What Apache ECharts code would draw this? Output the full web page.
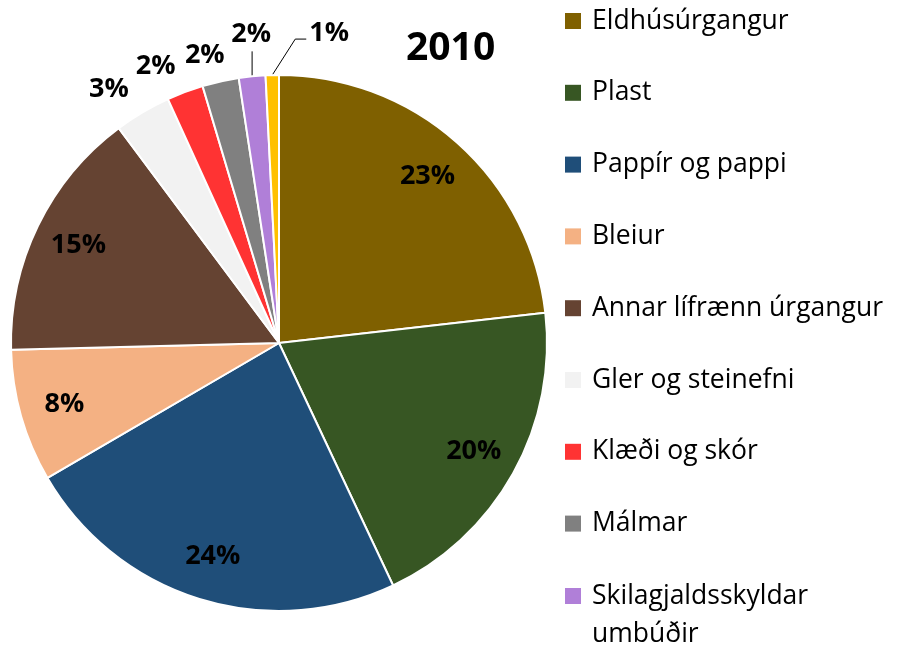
<!DOCTYPE html>
<html>
<head>
<meta charset="UTF-8">
<title>2010</title>
<style>
    html, body { margin: 0; padding: 0; background: #fff; }
    #container { width: 899px; height: 646px; }
</style>
</head>
<body>
<div id="container"></div>
<script src="https://cdn.jsdelivr.net/npm/echarts@6/dist/echarts.min.js"></script>
<script>
    // flokkar og hlutfall (%) árið 2010
    var categories = ['Eldhúsúrgangur', 'Plast', 'Pappír og pappi', 'Bleiur', 'Annar lífrænn úrgangur',
        'Gler og steinefni', 'Klæði og skór', 'Málmar', 'Skilagjaldsskyldar umbúðir', 'Annað'];
    var shares = [23.2, 19.8, 23.6, 8.0, 15.2, 3.4, 2.2, 2.2, 1.6, 0.8];
    var colors = ['#7f6000', '#375623', '#1f4e79', '#f4b183', '#654332',
        '#f2f2f2', '#ff3333', '#808080', '#b07fd8', '#ffc000'];
    var legendNames = categories.slice(0, 9); // síðasti flokkurinn kemst ekki fyrir í skýringunni
    var insideCount = 5;

    var font = '"Open Sans", "Noto Sans", sans-serif';
    var labelFont = {fontSize: 27, fontWeight: 'bold', color: '#000', fontFamily: font};
    var legendText = {fontSize: 26.5, lineHeight: 32, color: '#000', fontFamily: font, padding: [0, 0, 0, 6]};

    function pct(p) {
        return Math.round(p.percent) + '%';
    }

    var mainData = [];
    var labelData = [];
    for (var i = 0; i < categories.length; i++) {
        var outside = i >= insideCount;
        mainData.push({
            name: categories[i],
            value: shares[i],
            itemStyle: {color: colors[i]},
            label: {show: outside},
            labelLine: {show: i >= 8, length: 27, length2: 0}
        });
        labelData.push({
            name: categories[i],
            value: shares[i],
            label: {show: !outside}
        });
    }

    var lastName = legendNames[legendNames.length - 1];
    var nudge = {5: 5, 6: 5, 7: 15}; // smá hliðrun ytri merkja

    var chart = echarts.init(document.getElementById('container'));
    chart.setOption({
        animation: false,
        title: {
            text: '2010',
            left: 406,
            top: 29,
            padding: 0,
            textStyle: {fontSize: 39, fontWeight: 'bold', color: '#000', fontFamily: font}
        },
        legend: [{
            data: legendNames.slice(0, 8),
            orient: 'vertical',
            left: 565,
            top: 5,
            height: 640,
            padding: 0,
            itemWidth: 16,
            itemHeight: 16,
            itemGap: 39.8,
            icon: 'rect',
            itemStyle: {borderWidth: 0},
            textStyle: legendText
        }, {
            // tveggja lína skýring: ferningurinn við efri línuna
            data: [{name: lastName, icon: 'path://M0,0H16V16H0Z M0,54H16'}],
            orient: 'vertical',
            left: 565,
            top: 577,
            padding: 0,
            itemWidth: 16,
            itemHeight: 54,
            itemStyle: {borderWidth: 0},
            formatter: function (name) {
                return name.replace(' ', '\n');
            },
            textStyle: Object.assign({}, legendText, {lineHeight: 38})
        }],
        series: [{
            type: 'pie',
            center: [279, 343],
            radius: 268,
            startAngle: 90,
            clockwise: true,
            avoidLabelOverlap: false,
            emphasis: {disabled: true},
            itemStyle: {borderColor: '#fff', borderWidth: 2},
            label: Object.assign({position: 'outside', formatter: pct}, labelFont),
            labelLine: {lineStyle: {color: '#000', width: 1}},
            labelLayout: function (p) {
                var pts = p.labelLinePoints;
                if (!pts) return;
                var s = pts[0];
                if (nudge[p.dataIndex]) {
                    return {dx: nudge[p.dataIndex]};
                }
                if (p.dataIndex === 8) {
                    return {
                        x: s[0] - 1, y: s[1] - 42, align: 'center', verticalAlign: 'middle',
                        labelLinePoints: [s, [s[0], s[1] - 25], [s[0], s[1] - 25]]
                    };
                }
                if (p.dataIndex === 9) {
                    return {
                        x: s[0] + 37, y: s[1] - 42, align: 'left', verticalAlign: 'middle',
                        labelLinePoints: [s, [s[0] + 23, s[1] - 36], [s[0] + 34, s[1] - 36]]
                    };
                }
            },
            data: mainData
        }, {
            // gegnsær hringur sem ber innri merkin
            type: 'pie',
            center: [279, 343],
            radius: [172, 268],
            startAngle: 90,
            clockwise: true,
            silent: true,
            emphasis: {disabled: true},
            itemStyle: {color: 'transparent', borderWidth: 0},
            label: Object.assign({position: 'inside', formatter: pct}, labelFont),
            labelLine: {show: false},
            data: labelData
        }]
    });
</script>
</body>
</html>
